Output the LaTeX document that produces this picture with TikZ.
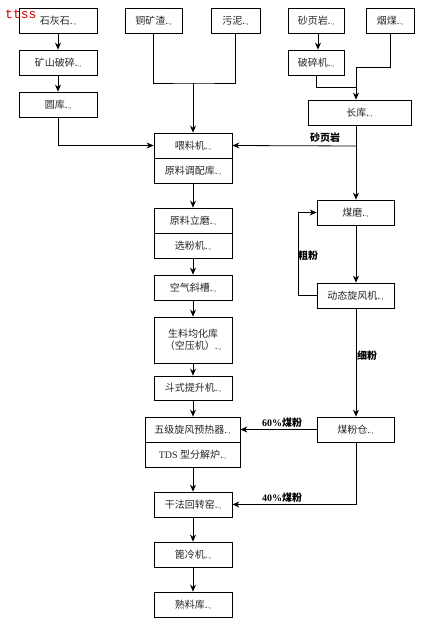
\documentclass[tikz,border=0pt]{standalone}
\usepackage{fontspec}
\setmainfont{Liberation Serif}
\newfontfamily\cjk{Noto Sans CJK SC}
\newfontfamily\ttss{Liberation Mono}
\usetikzlibrary{arrows.meta}
\newcommand{\pmk}{{\fontsize{6}{6}\selectfont .,}}
\begin{document}
\begin{tikzpicture}[x=1pt,y=-1pt,
  bx/.style={draw,line width=0.8pt,minimum height=25pt,inner sep=0pt,
    font=\cjk\fontsize{10}{12}\selectfont,text=black!85},
  ar/.style={line width=0.8pt,-{Stealth[length=7pt,width=6pt]}},
  ln/.style={line width=0.8pt},
  lab/.style={font=\cjk\bfseries\fontsize{10}{12}\selectfont,inner sep=0pt}]
\useasboundingbox (0,0) rectangle (428,626);
% top row
\node[bx,minimum width=78pt] (shs) at (58,20.5) {石灰石.\pmk};
\node[bx,minimum width=78pt] (kspc) at (58,62.5) {矿山破碎.\pmk};
\node[bx,minimum width=78pt] (yk) at (58,104.5) {圆库.\pmk};
\node[bx,minimum width=57pt] (tkz) at (153.5,20.5) {铜矿渣.\pmk};
\node[bx,minimum width=49pt] (wn) at (235.5,20.5) {污泥.\pmk};
\node[bx,minimum width=56pt] (syy) at (316,20.5) {砂页岩.\pmk};
\node[bx,minimum width=48pt] (ym) at (390,20.5) {烟煤.\pmk};
\node[bx,minimum width=56pt] (psj) at (316,62.5) {破碎机.\pmk};
\node[bx,minimum width=103pt] (ck) at (359.5,112.5) {长库.\pmk};
% left column
\node[bx,minimum width=78pt] (wlj) at (193,145.5) {喂料机.\pmk};
\node[bx,minimum width=78pt] (yltp) at (193,170.5) {原料调配库.\pmk};
\node[bx,minimum width=78pt] (yllm) at (193,220.5) {原料立磨.\pmk};
\node[bx,minimum width=78pt] (xfj) at (193,245.5) {选粉机.\pmk};
\node[bx,minimum width=78pt] (kqxc) at (193,287.5) {空气斜槽.\pmk};
\node[bx,minimum width=78pt,minimum height=46pt,align=center] (slj) at (193,340) {生料均化库\\（空压机）.\pmk};
\node[bx,minimum width=78pt,minimum height=24pt] (dsts) at (193,388) {斗式提升机.\pmk};
\node[bx,minimum width=95pt] (wjxf) at (192.5,429.5) {五级旋风预热器.\pmk};
\node[bx,minimum width=95pt] (tds) at (192.5,454.5) {{\rmfamily TDS} 型分解炉.\pmk};
\node[bx,minimum width=78pt] (gfhz) at (193,504.5) {干法回转窑.\pmk};
\node[bx,minimum width=78pt] (blj) at (193,554.5) {篦冷机.\pmk};
\node[bx,minimum width=78pt] (slk) at (193,604.5) {熟料库.\pmk};
% right column
\node[bx,minimum width=77pt] (mm) at (355.5,212.5) {煤磨.\pmk};
\node[bx,minimum width=77pt] (dtxf) at (355.5,295.5) {动态旋风机.\pmk};
\node[bx,minimum width=77pt] (mfc) at (355.5,429.5) {煤粉仓.\pmk};
% watermark
\node[font=\ttss\fontsize{13}{14}\selectfont,text=red!80!black,anchor=west,inner sep=0pt] (wm) at (5,14) {ttss};
% coordinates
\coordinate (m1) at (193,83);
\coordinate (j1) at (356,67);
\coordinate (j2) at (356,146);
\coordinate (c1) at (298,295.5);
% connectors
\draw[ar] (shs) -- (kspc);
\draw[ar] (kspc) -- (yk);
\draw[ar] (yk.south) |- (wlj.west);
\draw[ln] (tkz.south) |- (m1) -| (wn.south);
\draw[ar] (m1) -- (wlj.north);
\draw[ar] (syy.south -| 318,0) -- (psj.north -| 318,0);
\draw[ln] (psj.south) |- (j1 |- 0,87);
\draw[ln] (ym.south) |- (j1);
\draw[ar] (j1) -- (j1 |- ck.north);
\draw[ar] (j1 |- ck.south) -- (j1 |- mm.north);
\draw[ar] (j2) -- (wlj.east) node[lab,pos=0.25,above=3pt] {砂页岩};
\draw[ar] (yltp) -- (yllm);
\draw[ar] (xfj) -- (kqxc);
\draw[ar] (kqxc) -- (slj);
\draw[ar] (slj) -- (dsts);
\draw[ar] (dsts) -- (wlj |- wjxf.north);
\draw[ar] (tds.south -| gfhz) -- (gfhz);
\draw[ar] (gfhz) -- (blj);
\draw[ar] (blj) -- (slk);
\draw[ar] (j1 |- mm.south) -- (j1 |- dtxf.north);
\draw[ar] (dtxf.west) -- (c1) |- (mm.west);
\node[lab] (cf) at (308,256) {粗粉};
\draw[ar] (j1 |- dtxf.south) -- (j1 |- mfc.north);
\node[lab] (xf) at (367,356) {细粉};
\draw[ar] (mfc.west) -- (wjxf.east);
\node[lab] (l60) at (282,423) {{\rmfamily\bfseries 60\%}煤粉};
\draw[ar] (j1 |- mfc.south) |- (gfhz.east);
\node[lab] (l40) at (282,498) {{\rmfamily\bfseries 40\%}煤粉};
\end{tikzpicture}
\end{document}
